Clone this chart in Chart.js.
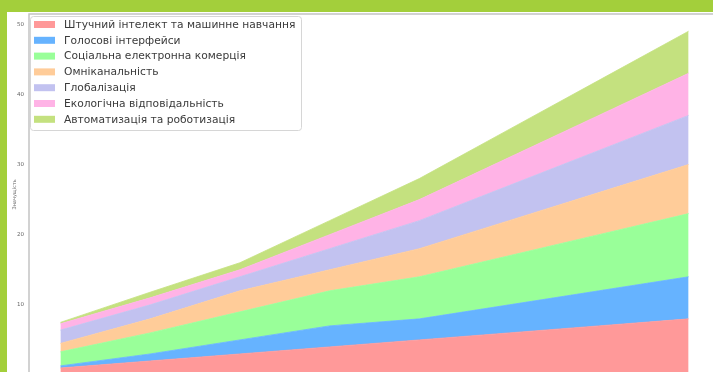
<!DOCTYPE html>
<html>
<head>
<meta charset="utf-8">
<script src="https://cdn.jsdelivr.net/npm/chart.js@4"></script>
<style>
  html, body { margin: 0; padding: 0; width: 713px; height: 372px; overflow: hidden; background: #a3cf3b; }
  #panel { position: absolute; left: 7px; top: 12px; width: 720px; height: 400px; background: #fff; }
  #wrap { position: absolute; left: 0; top: 0; width: 730px; height: 400px; }
</style>
</head>
<body>
<div id="panel"></div>
<div id="wrap"><canvas id="c" width="730" height="400"></canvas></div>
<script>
const years = [2018, 2019, 2020, 2021, 2022, 2023, 2024, 2025];
const seriesNames = [
  'Штучний інтелект та машинне навчання',
  'Голосові інтерфейси',
  'Соціальна електронна комерція',
  'Омніканальність',
  'Глобалізація',
  'Екологічна відповідальність',
  'Автоматизація та роботизація'
];
const aiML          = [1, 2, 3, 4, 5, 6, 7, 8];
const voice         = [0.3, 1, 2, 3, 3, 4, 5, 6];
const socialCommerce= [2, 3, 4, 5, 6, 7, 8, 9];
const omnichannel   = [1.2, 2, 3, 3, 4, 5, 6, 7];
const globalization = [1.9, 2, 2, 3, 4, 5, 6, 7];
const ecology       = [0.9, 1, 1, 2, 3, 4, 5, 6];
const automation    = [0.2, 0.8, 1, 2, 3, 4, 5, 6];
const yTicks = [0, 10, 20, 30, 40, 50];
const yTitle = 'Значущість';

const colors = ['#ff9999', '#66b3ff', '#99ff99', '#ffcc99', '#c2c2f0', '#ffb3e6', '#c4e17f'];
const allSeries = [aiML, voice, socialCommerce, omnichannel, globalization, ecology, automation];

const datasets = allSeries.map((vals, i) => ({
  label: seriesNames[i],
  data: vals.map((v, j) => ({ x: years[j], y: v })),
  backgroundColor: colors[i],
  borderColor: colors[i],
  borderWidth: 0.8,
  pointRadius: 0,
  pointHoverRadius: 0,
  tension: 0,
  fill: i === 0 ? 'origin' : '-1'
}));

const frame = {
  id: 'frame',
  afterDraw(chart) {
    const { ctx, chartArea: a } = chart;
    ctx.save();
    ctx.strokeStyle = '#c4c4c4';
    ctx.lineWidth = 1.5;
    ctx.beginPath();
    ctx.moveTo(a.left, a.bottom + 5);
    ctx.lineTo(a.left, a.top);
    ctx.lineTo(a.right + 5, a.top);
    ctx.stroke();
    // legend
    const lx = 30, ly = 16, lw = 271, lh = 114;
    ctx.fillStyle = 'rgba(255,255,255,0.85)';
    ctx.strokeStyle = '#d6d6d6';
    ctx.lineWidth = 1;
    ctx.beginPath();
    ctx.roundRect(lx + 0.5, ly + 0.5, lw, lh, 3);
    ctx.fill();
    ctx.stroke();
    ctx.font = '10.7px "DejaVu Sans"';
    ctx.textBaseline = 'middle';
    chart.data.datasets.forEach((ds, i) => {
      const cy = 24.5 + i * 15.8;
      ctx.fillStyle = ds.backgroundColor;
      ctx.fillRect(34, cy - 3.5, 21, 7);
      ctx.fillStyle = '#3a3a3a';
      ctx.fillText(ds.label, 64, cy + 0.5);
    });
    ctx.restore();
  }
};

new Chart(document.getElementById('c'), {
  type: 'line',
  data: { datasets },
  plugins: [frame],
  options: {
    responsive: false,
    animation: false,
    layout: { padding: { left: 0, right: 10, top: 14, bottom: 25 } },
    plugins: { legend: { display: false }, tooltip: { enabled: false } },
    scales: {
      x: {
        type: 'linear',
        display: false,
        min: years[0] - 0.35,
        max: years[years.length - 1] + 0.35
      },
      y: {
        stacked: true,
        min: 0,
        max: 51.45,
        afterBuildTicks: s => { s.ticks = yTicks.map(v => ({ value: v })); },
        afterFit: s => { s.width = 29; },
        grid: { display: false, drawTicks: true, tickLength: 3, color: '#888' },
        border: { display: false },
        ticks: { color: '#666', font: { size: 5.5, family: 'DejaVu Sans' }, padding: 2 },
        title: { display: true, text: yTitle, color: '#666', font: { size: 5, family: 'DejaVu Sans' }, padding: { top: 12, bottom: 0 } }
      }
    }
  }
});
</script>
</body>
</html>
